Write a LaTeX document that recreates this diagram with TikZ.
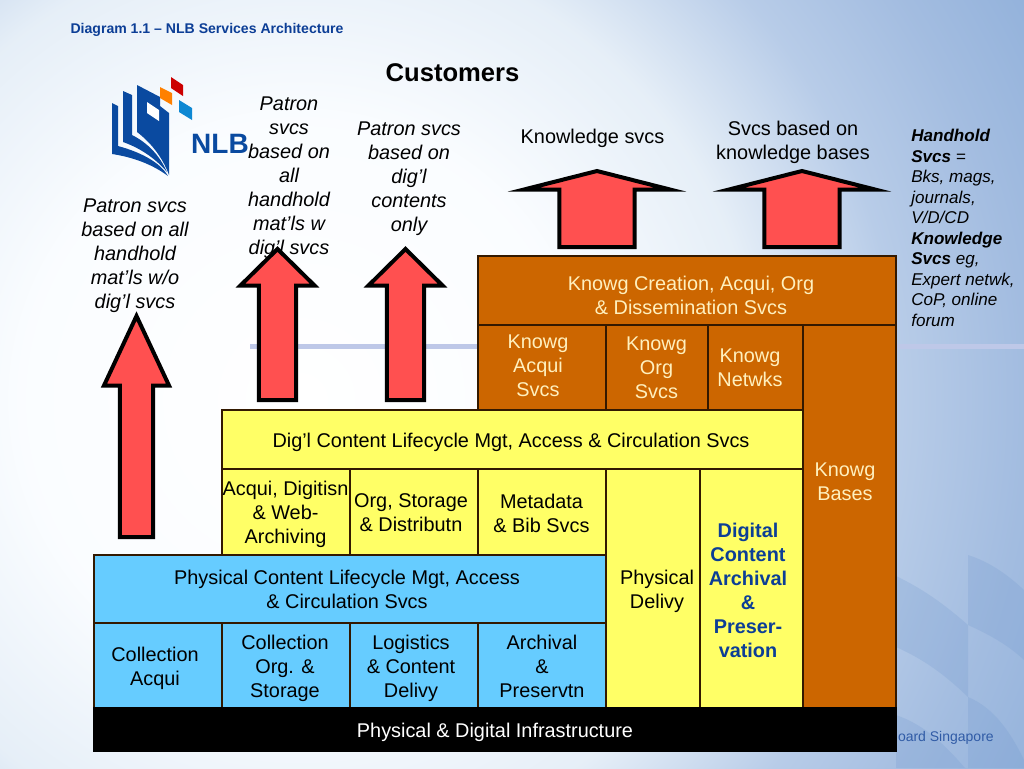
\documentclass[tikz,border=0pt]{standalone}
\usepackage{fontspec}
\setmainfont{Liberation Sans}
\usepackage{xcolor}
\definecolor{boxorange}{RGB}{204,102,0}
\definecolor{boxyellow}{RGB}{255,255,102}
\definecolor{boxblue}{RGB}{102,204,255}
\definecolor{arrowred}{RGB}{255,80,80}
\definecolor{titleblue}{RGB}{12,62,150}
\definecolor{nlbblue}{RGB}{10,74,160}
\definecolor{creamtext}{RGB}{255,240,190}
\definecolor{bandblue}{RGB}{190,200,232}
\definecolor{wavedark}{RGB}{110,150,205}
\pgfdeclareradialshading{slideback}{\pgfpoint{0bp}{0bp}}{
  rgb(0bp)=(1,1,1);
  rgb(7bp)=(0.98,0.99,1);
  rgb(11.5bp)=(0.90,0.935,0.97);
  rgb(15bp)=(0.72,0.80,0.91);
  rgb(18bp)=(0.64,0.74,0.88);
  rgb(22bp)=(0.55,0.68,0.85);
  rgb(50bp)=(0.55,0.68,0.85)}
\newcommand{\bigtext}{\fontsize{14.9}{18}\selectfont}
\begin{document}
\begin{tikzpicture}[x=0.75pt,y=-0.75pt,
  cell/.style 2 args={draw=black!80!orange,line width=0.9pt,inner sep=0pt,
                      minimum width=#1*0.75pt,minimum height=#2*0.75pt},
  orangecell/.style 2 args={cell={#1}{#2},fill=boxorange},
  yellowcell/.style 2 args={cell={#1}{#2},fill=boxyellow},
  bluecell/.style 2 args={cell={#1}{#2},fill=boxblue},
  celltext/.style={font=\bigtext,align=center,inner sep=0pt,text depth=0pt},
  creamlbl/.style={celltext,text=creamtext},
  note/.style={font=\bigtext\itshape,align=center},
  plain/.style={font=\bigtext,align=center},
  uparrow/.style={draw=black,fill=arrowred,line width=3pt,miter limit=25},
  wave/.style={fill=wavedark,fill opacity=.22},
]
\useasboundingbox (0,0) rectangle (1024,768);
\begin{scope}
  \clip (0,0) rectangle (1024,768);
  \shade[shading=slideback] (-700,-600) rectangle (1300,1400);
\end{scope}
\fill[wave] (896,576) .. controls (925,590) and (945,605) .. (968,625) -- (968,697)
  .. controls (945,675) and (925,660) .. (896,647) -- cycle;
\fill[wave] (968,555) .. controls (990,562) and (1008,575) .. (1024,590) -- (1024,660)
  .. controls (1008,645) and (990,635) .. (968,625) -- cycle;
\fill[wave] (968,697) .. controls (995,708) and (1012,735) .. (1024,760) -- (1024,768) -- (968,768) -- cycle;
\fill[wave] (896,715) .. controls (925,725) and (945,745) .. (965,768) -- (896,768) -- cycle;
\fill[bandblue] (250,344) rectangle (1024,349);

% logo
\fill[nlbblue] (112,103) -- (118,106) -- (118,146) .. controls (140,152) and (160,162) .. (168,176)
  .. controls (152,164) and (132,157) .. (112,154) -- cycle;
\fill[nlbblue] (123,91) -- (132,95) -- (132,135) .. controls (148,143) and (160,156) .. (167,172)
  .. controls (155,158) and (140,148) .. (123,142) -- cycle;
\fill[nlbblue] (137,85) -- (160,97) -- (160,106) -- (169,113) -- (169,175)
  .. controls (162,156) and (150,142) .. (137,132) -- cycle;
\fill[white] (147,102) -- (159,110) -- (159,121) -- (147,113) -- cycle;
\fill[red!80!black] (171,77) -- (183,85) -- (183,96) -- (171,88) -- cycle;
\fill[orange] (160,87) -- (172,93) -- (172,105) -- (160,98) -- cycle;
\fill[cyan!70!blue] (179,100) -- (192,108) -- (192,120) -- (179,112) -- cycle;
\node[font=\bfseries\fontsize{21}{21}\selectfont,text=nlbblue,inner sep=0pt] (nlb) at (220,144) {NLB};

% titles
\node[font=\bfseries\fontsize{10.55}{12}\selectfont,text=titleblue,inner sep=0pt] (title) at (207,30)
  {Diagram 1.1 – NLB Services Architecture};
\node[font=\bfseries\fontsize{19.2}{22}\selectfont,inner sep=0pt] (customers) at (452.5,73) {Customers};

% arrow labels
\node[note] (handw) at (135,256) {Patron svcs\\based on all\\handhold\\mat’ls w/o\\dig’l svcs};
\node[note] (hand)  at (289,178) {Patron\\svcs\\based on\\all\\handhold\\mat’ls w\\dig’l svcs};
\node[note] (digl)  at (409,179) {Patron svcs\\based on\\dig’l\\contents\\only};
\node[plain] (knsvc) at (592.5,138) {Knowledge svcs};
\node[plain] (knbase) at (793,142) {Svcs based on\\knowledge bases};

% red arrows
\foreach \cx/\tip/\wing/\wh/\sh/\bot in {136.5/316/385.5/32.5/16.6/537,
    277.5/249/285.5/37/18.6/400, 405.5/249/285.5/37/18.6/400,
    597/171/189.5/73/37.6/247, 802/171/189.5/73/37.6/247}
  \draw[uparrow] (\cx,\tip) -- ({\cx+\wh},\wing) -- ({\cx+\sh},\wing) -- ({\cx+\sh},\bot)
    -- ({\cx-\sh},\bot) -- ({\cx-\sh},\wing) -- ({\cx-\wh},\wing) -- cycle;

\node[font=\fontsize{12.8}{15.4}\selectfont\itshape,align=left,anchor=north west,inner sep=0pt] (notes) at (911,129)
  {\textbf{Handhold}\\\textbf{Svcs} =\\Bks, mags,\\journals,\\V/D/CD\\\textbf{Knowledge}\\\textbf{Svcs} eg,\\Expert netwk,\\CoP, online\\forum};

% footer text behind the base
\node[font=\fontsize{10.5}{12}\selectfont,text=titleblue!85,inner sep=0pt,anchor=east] (foot) at (994,738) {oard Singapore};

% orange tier
\node[orangecell={418}{69}] (create) at (687,290.5) {};
\node[orangecell={128}{85}] (acqui) at (542,367.5) {};
\node[orangecell={102}{85}] (org) at (657,367.5) {};
\node[orangecell={95}{85}] (netw) at (755.5,367.5) {};
\node[orangecell={93}{383}] (bases) at (849.5,516.5) {};
\node[creamlbl] (createlbl) at (691,295) {Knowg Creation, Acqui, Org\\\& Dissemination Svcs};
\node[creamlbl] (acquilbl) at (538,366) {Knowg\\Acqui\\Svcs};
\node[creamlbl] (orglbl) at (656.5,368) {Knowg\\Org\\Svcs};
\node[creamlbl] (netwlbl) at (750,368) {Knowg\\Netwks};
\node[creamlbl] (baselbl) at (845,482) {Knowg\\Bases};

% yellow tier
\node[yellowcell={581}{59}] (digi) at (512.5,439.5) {};
\node[yellowcell={128}{86}] (acqd) at (286,512) {};
\node[yellowcell={128}{86}] (stor) at (414,512) {};
\node[yellowcell={128}{86}] (meta) at (542,512) {};
\node[yellowcell={94}{239}] (deliv) at (653,588.5) {};
\node[yellowcell={103}{239}] (arch) at (751.5,588.5) {};
\node[celltext] (digilbl) at (511,440) {Dig’l Content Lifecycle Mgt, Access \& Circulation Svcs};
\node[celltext] (acqdlbl) at (285.5,512) {Acqui, Digitisn\\\& Web-\\Archiving};
\node[celltext] (storlbl) at (411,513) {Org, Storage\\\& Distributn};
\node[celltext] (metalbl) at (541.5,513) {Metadata\\\& Bib Svcs};
\node[celltext] (delivlbl) at (657,589) {Physical\\Delivy};
\node[celltext,font=\bigtext\bfseries,text=titleblue] (archlbl) at (748,590)
  {Digital\\Content\\Archival\\\&\\Preser-\\vation};

% blue tier
\node[bluecell={512}{68}] (phys) at (350,589) {};
\node[bluecell={128}{85}] (coll) at (158,665.5) {};
\node[bluecell={128}{85}] (cstor) at (286,665.5) {};
\node[bluecell={128}{85}] (logi) at (414,665.5) {};
\node[bluecell={128}{85}] (pres) at (542,665.5) {};
\node[celltext] (physlbl) at (347,589) {Physical Content Lifecycle Mgt, Access\\\& Circulation Svcs};
\node[celltext] (colllbl) at (155,666) {Collection\\Acqui};
\node[celltext] (cstorlbl) at (285,666) {Collection\\Org. \&\\Storage};
\node[celltext] (logilbl) at (411,666) {Logistics\\\& Content\\Delivy};
\node[celltext] (preslbl) at (542,666) {Archival\\\&\\Preservtn};

% base
\node[cell={802}{43},draw=black,fill=black] (infra) at (495,729.5) {};
\node[celltext,text=white] (infralbl) at (495,730) {Physical \& Digital Infrastructure};
\end{tikzpicture}
\end{document}
